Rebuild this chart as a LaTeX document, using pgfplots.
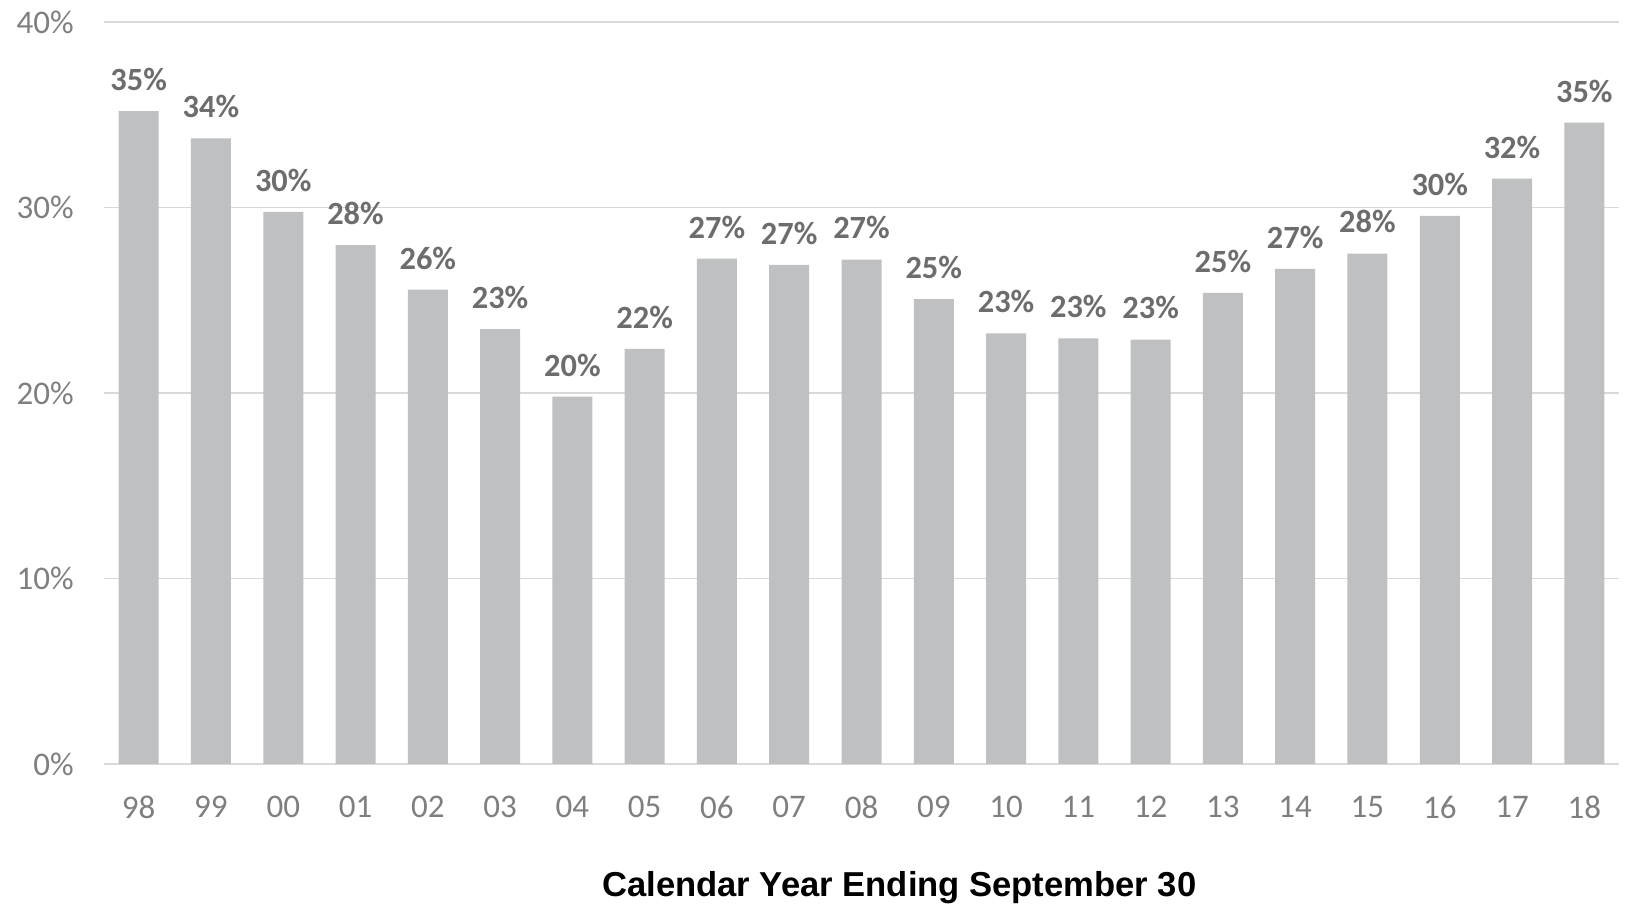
\documentclass[border=0pt]{standalone}
\usepackage{fontspec}
\setmainfont{Carlito}
\newfontfamily\arialfont{Liberation Sans}
\usepackage{pgfplots}
\pgfplotsset{compat=1.18}
\definecolor{barfill}{HTML}{BFC0C2}
\definecolor{gridgray}{HTML}{D9D9D9}
\definecolor{ticktext}{HTML}{7F7F7F}
\definecolor{labeltext}{HTML}{6D6D6D}
\begin{document}
\begin{tikzpicture}
\begin{axis}[
  name=ax,
  scale only axis,
  width=757.5pt, height=371pt,
  ymin=0, ymax=40,
  xmin=-0.48, xmax=20.48,
  ytick={0,10,20,30,40},
  xtick={0,...,20},
  xticklabels={98,99,00,01,02,03,04,05,06,07,08,09,10,11,12,13,14,15,16,17,18},
  /pgf/number format/assume math mode=true,
  yticklabel={\pgfmathprintnumber{\tick}\%},
  axis line style={draw=none},
  major tick length=0pt,
  ymajorgrids,
  grid style={color=gridgray, line width=0.8pt},
  tick label style={font=\fontsize{16.5}{18}\selectfont, text=ticktext},
  yticklabel style={anchor=east, inner sep=0pt, xshift=-15pt},
  xticklabel style={anchor=north, inner sep=0pt, yshift=-16pt},
  xlabel={\arialfont\bfseries Calendar Year Ending September 30},
  xlabel style={at={(axis description cs:0.525,0)}, anchor=center, yshift=-62pt, font=\fontsize{17.3}{19}\selectfont, text=black},
  nodes near coords={\pgfmathprintnumber[fixed,precision=0]{\pgfplotspointmeta}\%},
  nodes near coords style={font=\fontsize{16.2}{18}\selectfont\bfseries, text=labeltext, anchor=south, inner sep=0pt, yshift=10pt},
]
\addplot[ybar, bar width=20pt, fill=barfill, draw=none] coordinates {
  (0,35.19) (1,33.73) (2,29.76) (3,27.97) (4,25.57) (5,23.44) (6,19.80)
  (7,22.38) (8,27.24) (9,26.91) (10,27.19) (11,25.06) (12,23.22) (13,22.94)
  (14,22.88) (15,25.40) (16,26.69) (17,27.52) (18,29.55) (19,31.55) (20,34.57)
};
\end{axis}
\pgfresetboundingbox
\useasboundingbox ([xshift=-52pt,yshift=-70pt]ax.south west) rectangle ([xshift=4pt,yshift=11pt]ax.north east);
\end{tikzpicture}
\end{document}
